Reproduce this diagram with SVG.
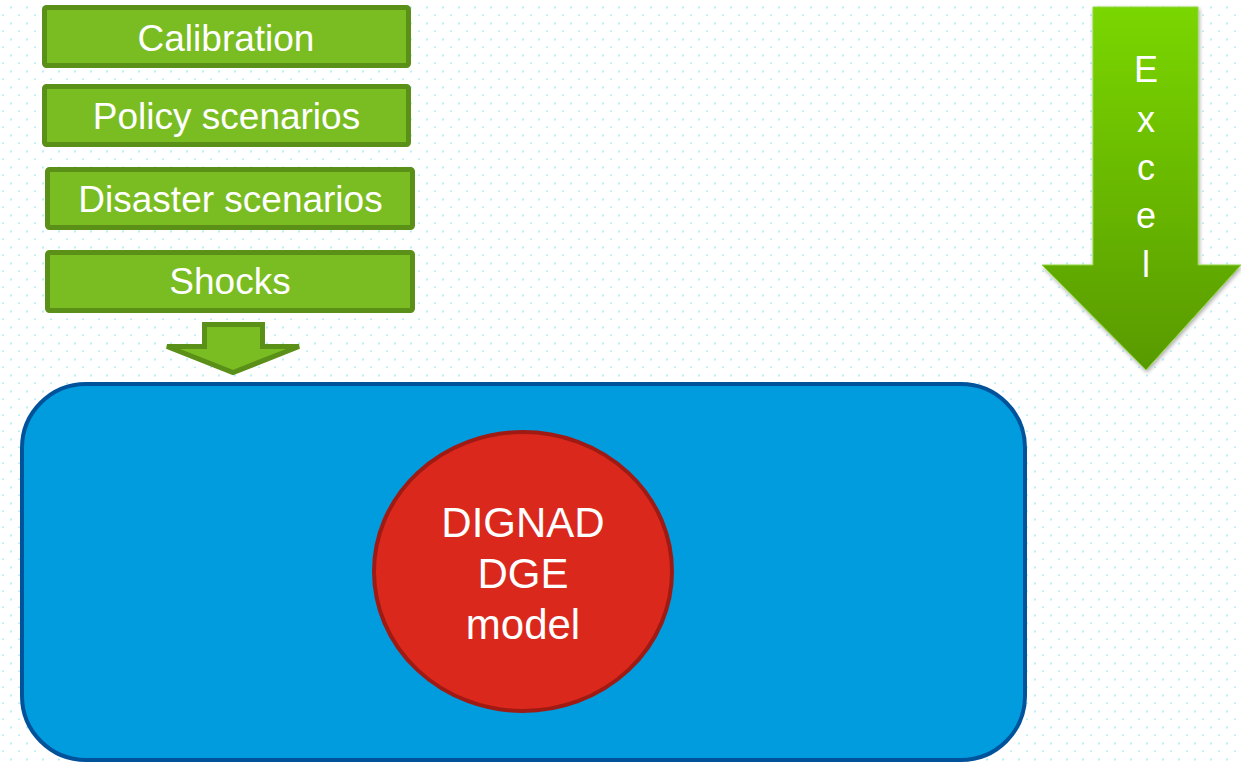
<svg xmlns="http://www.w3.org/2000/svg" width="1241" height="763" viewBox="0 0 1241 763">
  <defs>
    <pattern id="dots" width="16" height="16" patternUnits="userSpaceOnUse">
      <rect x="10" y="6.5" width="2" height="2" fill="#b6f1f6"/>
      <rect x="2" y="14.5" width="2" height="2" fill="#b6f1f6"/>
    </pattern>
    <linearGradient id="excelFill" x1="0" y1="0" x2="0" y2="1">
      <stop offset="0" stop-color="#7ad606"/>
      <stop offset="1" stop-color="#589a06"/>
    </linearGradient>
    <filter id="soft" x="-10%" y="-10%" width="130%" height="130%">
      <feGaussianBlur in="SourceAlpha" stdDeviation="2"/>
      <feOffset dx="1" dy="2"/>
      <feComponentTransfer><feFuncA type="linear" slope="0.35"/></feComponentTransfer>
      <feMerge><feMergeNode/><feMergeNode in="SourceGraphic"/></feMerge>
    </filter>
  </defs>
  <style>
    .box { fill: #7abd22; stroke: #5a8f18; stroke-width: 5; }
    .label { fill: #ffffff; font-family: "Liberation Sans", Arial, sans-serif; text-anchor: middle; }
    .box-label { font-size: 37px; }
    .model-label { font-size: 42px; }
    .excel-label { font-size: 36px; }
  </style>

  <!-- background -->
  <rect x="0" y="0" width="1241" height="763" fill="#ffffff"/>
  <rect x="0" y="0" width="1241" height="763" fill="url(#dots)"/>

  <!-- input boxes -->
  <g id="calibration">
    <rect class="box" x="44.5" y="7.5" width="364" height="58" rx="2"/>
    <text class="label box-label" x="226" y="51">Calibration</text>
  </g>
  <g id="policy-scenarios">
    <rect class="box" x="44.5" y="86.5" width="364" height="58" rx="2"/>
    <text class="label box-label" x="226.5" y="129">Policy scenarios</text>
  </g>
  <g id="disaster-scenarios">
    <rect class="box" x="47.5" y="169.5" width="365" height="58" rx="2"/>
    <text class="label box-label" x="230.5" y="212">Disaster scenarios</text>
  </g>
  <g id="shocks">
    <rect class="box" x="47.5" y="252.5" width="365" height="58" rx="2"/>
    <text class="label box-label" x="230" y="294">Shocks</text>
  </g>

  <g id="connectors">
    <!-- block arrow from inputs into the model -->
    <path d="M204.5 324.5 H262.5 V346.5 H299 L233 372.5 L167 346.5 H204.5 Z" fill="#7abd22" stroke="#5a8f18" stroke-width="5" stroke-linejoin="miter"/>
  </g>

  <!-- model container -->
  <g id="model-area">
    <rect x="22" y="384" width="1003" height="376" rx="64" ry="64" fill="#009cde" stroke="#00529b" stroke-width="4"/>
  </g>

  <g id="dignad-model">
    <ellipse cx="523" cy="571.5" rx="149" ry="139.5" fill="#da291c" stroke="#a01a14" stroke-width="4"/>
    <text class="label model-label" x="523" y="537">DIGNAD</text>
    <text class="label model-label" x="523" y="588">DGE</text>
    <text class="label model-label" x="523" y="639">model</text>
  </g>

  <!-- Excel input arrow -->
  <g id="excel">
    <path d="M1093 7 H1198 V265 H1241 L1146 370 L1042 265 H1093 Z" fill="url(#excelFill)" stroke="#8fd63a" stroke-width="1" filter="url(#soft)"/>
    <text class="label excel-label" x="1146" y="82">E</text>
    <text class="label excel-label" x="1146" y="132">x</text>
    <text class="label excel-label" x="1146" y="180">c</text>
    <text class="label excel-label" x="1146" y="228">e</text>
    <text class="label excel-label" x="1146" y="277">l</text>
  </g>
</svg>
